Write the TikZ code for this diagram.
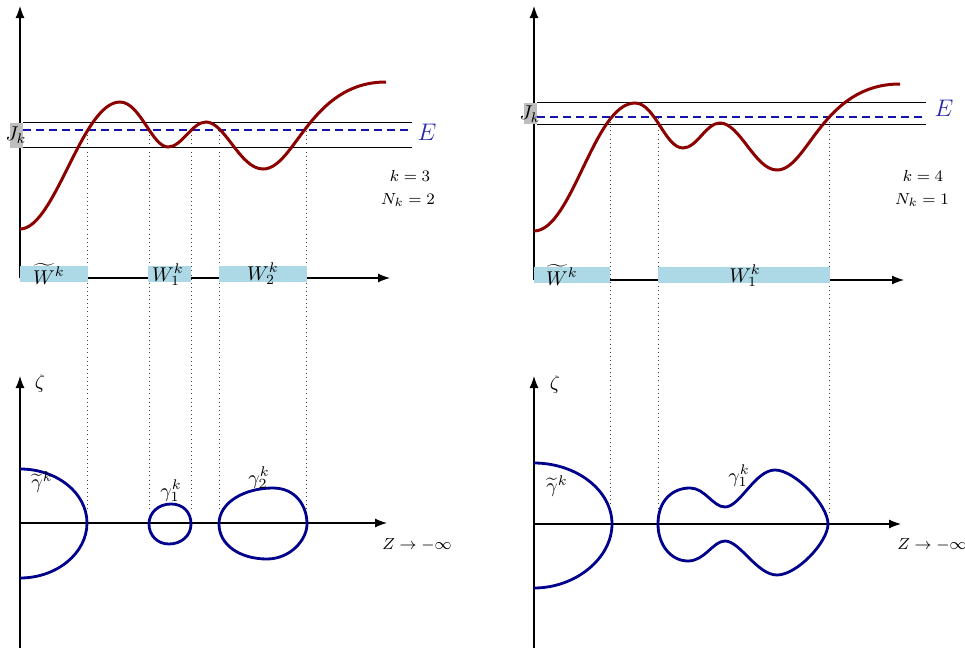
\documentclass[tikz,border=0pt]{standalone}
\usetikzlibrary{arrows.meta}
\definecolor{curvered}{RGB}{140,0,0}
\definecolor{curveblue}{RGB}{0,0,140}
\definecolor{dashblue}{RGB}{20,20,170}
\definecolor{elabel}{RGB}{40,40,170}
\definecolor{barblue}{RGB}{173,216,230}
\definecolor{jgray}{RGB}{190,190,190}
\tikzset{
  axisline/.style={line width=0.6pt, -{Latex[length=6pt,width=4.5pt]}},
  bandline/.style={line width=0.45pt},
  edash/.style={dashblue, line width=1pt, dash pattern=on 4pt off 2.5pt},
  redcurve/.style={curvered, line width=1.5pt},
  bluecurve/.style={curveblue, line width=1.4pt},
  guide/.style={line width=0.5pt, dash pattern=on 0.45pt off 1.6pt, black!75},
  barfill/.style={fill=barblue},
  jfill/.style={fill=jgray},
  lbl/.style={inner sep=0pt},
  small/.style={inner sep=0pt, font=\footnotesize},
}
\begin{document}
\begin{tikzpicture}[x=0.5pt,y=-0.5pt]
\useasboundingbox (0,0) rectangle (965,648);

% ================= LEFT PANEL (k=3) =================
\coordinate (LO) at (20,278);
\coordinate (LYT) at (20,6);
\coordinate (LXR) at (390,278);
\draw[axisline] (LO) -- (LYT);
\draw[axisline] (LO) -- (LXR);
\coordinate (LLO) at (20,523);
\coordinate (LLB) at (20,648);
\coordinate (LLT) at (20,376);
\coordinate (LLR) at (387,523);
\draw[axisline] (LLB) -- (LLT);
\draw[axisline] (LLO) -- (LLR);

\foreach \gx in {87,149,191,219,306}{
  \coordinate (lgt\gx) at (\gx,131);
  \coordinate (lgb\gx) at (\gx,512);
  \draw[guide] (lgt\gx) -- (lgb\gx);
}

\fill[barfill] (20,266) rectangle (88,282);
\fill[barfill] (148,266) rectangle (191,282);
\fill[barfill] (219,266) rectangle (307,282);
\node[lbl] (lWt) at (49,274) {$\widetilde{W}^k$};
\node[lbl] (lW1) at (168,275) {$W_1^k$};
\node[lbl] (lW2) at (263,274) {$W_2^k$};

\fill[jfill] (10,123) rectangle (23,148);
\node[lbl] (lJ) at (16,135) {$J_k$};
\coordinate (lbu1) at (23,122); \coordinate (lbu2) at (412,122);
\coordinate (lbl1) at (23,147); \coordinate (lbl2) at (412,147);
\coordinate (le1) at (23,130); \coordinate (le2) at (412,130);
\draw[bandline] (lbu1) -- (lbu2);
\draw[bandline] (lbl1) -- (lbl2);
\draw[edash] (le1) -- (le2);
\node[lbl, text=elabel, font=\large] (lE) at (427,132) {$E$};

\node[small] (lk) at (410,176) {$k=3$};
\node[small] (lN) at (408,200) {$N_k=2$};

\draw[redcurve] (20,229) .. controls (55,229) and (82,102) .. (120,102)
  .. controls (140,102) and (152,147) .. (168,147)
  .. controls (182,147) and (192,122) .. (206,122)
  .. controls (225,122) and (240,169) .. (263,169)
  .. controls (295,169) and (310,82) .. (386,82);

\draw[bluecurve] (20,469) .. controls (57,469) and (87,493) .. (87,523)
                 .. controls (87,553) and (57,578) .. (20,578);
\draw[bluecurve] (149,524) .. controls (149,513) and (158,504) .. (171,504)
  .. controls (183,504) and (191,512) .. (191,524)
  .. controls (191,536) and (181,544) .. (169,544)
  .. controls (157,544) and (149,535) .. cycle;
\draw[bluecurve] (219,524) .. controls (219,502) and (245,488) .. (273,488)
  .. controls (295,488) and (307,505) .. (307,524)
  .. controls (307,540) and (290,559) .. (267,559)
  .. controls (240,559) and (219,545) .. cycle;
\node[lbl] (lgt) at (42,482) {$\widetilde{\gamma}^k$};
\node[lbl] (lg1) at (171,491) {$\gamma_1^k$};
\node[lbl] (lg2) at (259,478) {$\gamma_2^k$};
\node[lbl] (lzeta) at (40,383) {$\zeta$};
\node[small] (lZ) at (417,545) {$Z\to-\infty$};

% ================= RIGHT PANEL (k=4) =================
\coordinate (RO) at (534,280);
\coordinate (RYT) at (534,6);
\coordinate (RXR) at (904,280);
\draw[axisline] (RO) -- (RYT);
\draw[axisline] (RO) -- (RXR);
\coordinate (RLO) at (534,524);
\coordinate (RLB) at (534,648);
\coordinate (RLT) at (534,376);
\coordinate (RLR) at (901,524);
\draw[axisline] (RLB) -- (RLT);
\draw[axisline] (RLO) -- (RLR);

\foreach \gx in {610,658,829}{
  \coordinate (rgt\gx) at (\gx,118);
  \coordinate (rgb\gx) at (\gx,512);
  \draw[guide] (rgt\gx) -- (rgb\gx);
}

\fill[barfill] (534,267) rectangle (610,283);
\fill[barfill] (658,267) rectangle (830,283);
\node[lbl] (rWt) at (562,275) {$\widetilde{W}^k$};
\node[lbl] (rW1) at (745,276) {$W_1^k$};

\fill[jfill] (524,103) rectangle (537,124);
\node[lbl] (rJ) at (530,114) {$J_k$};
\coordinate (rbu1) at (537,102); \coordinate (rbu2) at (926,102);
\coordinate (rbl1) at (537,124); \coordinate (rbl2) at (926,124);
\coordinate (re1) at (537,117); \coordinate (re2) at (926,117);
\draw[bandline] (rbu1) -- (rbu2);
\draw[bandline] (rbl1) -- (rbl2);
\draw[edash] (re1) -- (re2);
\node[lbl, text=elabel, font=\large] (rE) at (944,108) {$E$};

\node[small] (rk) at (923,176) {$k=4$};
\node[small] (rN) at (922,200) {$N_k=1$};

\draw[redcurve] (534,231) .. controls (572,231) and (594,103) .. (635,103)
  .. controls (655,103) and (665,148) .. (683,148)
  .. controls (697,148) and (706,123) .. (720,123)
  .. controls (740,123) and (755,170) .. (777,170)
  .. controls (808,170) and (822,84) .. (900,84);

\draw[bluecurve] (534,463) .. controls (576,463) and (612,490) .. (612,524)
                 .. controls (612,558) and (576,588) .. (534,588);
\draw[bluecurve] (658,524) .. controls (658,500) and (673,488) .. (690,488)
  .. controls (705,488) and (713,507) .. (725,507)
  .. controls (740,507) and (755,470) .. (775,470)
  .. controls (795,470) and (828,505) .. (828,524)
  .. controls (828,542) and (797,575) .. (777,575)
  .. controls (757,575) and (740,541) .. (725,541)
  .. controls (713,541) and (705,561) .. (688,561)
  .. controls (671,561) and (658,545) .. cycle;
\node[lbl] (rgt) at (557,486) {$\widetilde{\gamma}^k$};
\node[lbl] (rg1) at (739,476) {$\gamma_1^k$};
\node[lbl] (rzeta) at (555,384) {$\zeta$};
\node[small] (rZ) at (932,545) {$Z\to-\infty$};
\end{tikzpicture}
\end{document}
